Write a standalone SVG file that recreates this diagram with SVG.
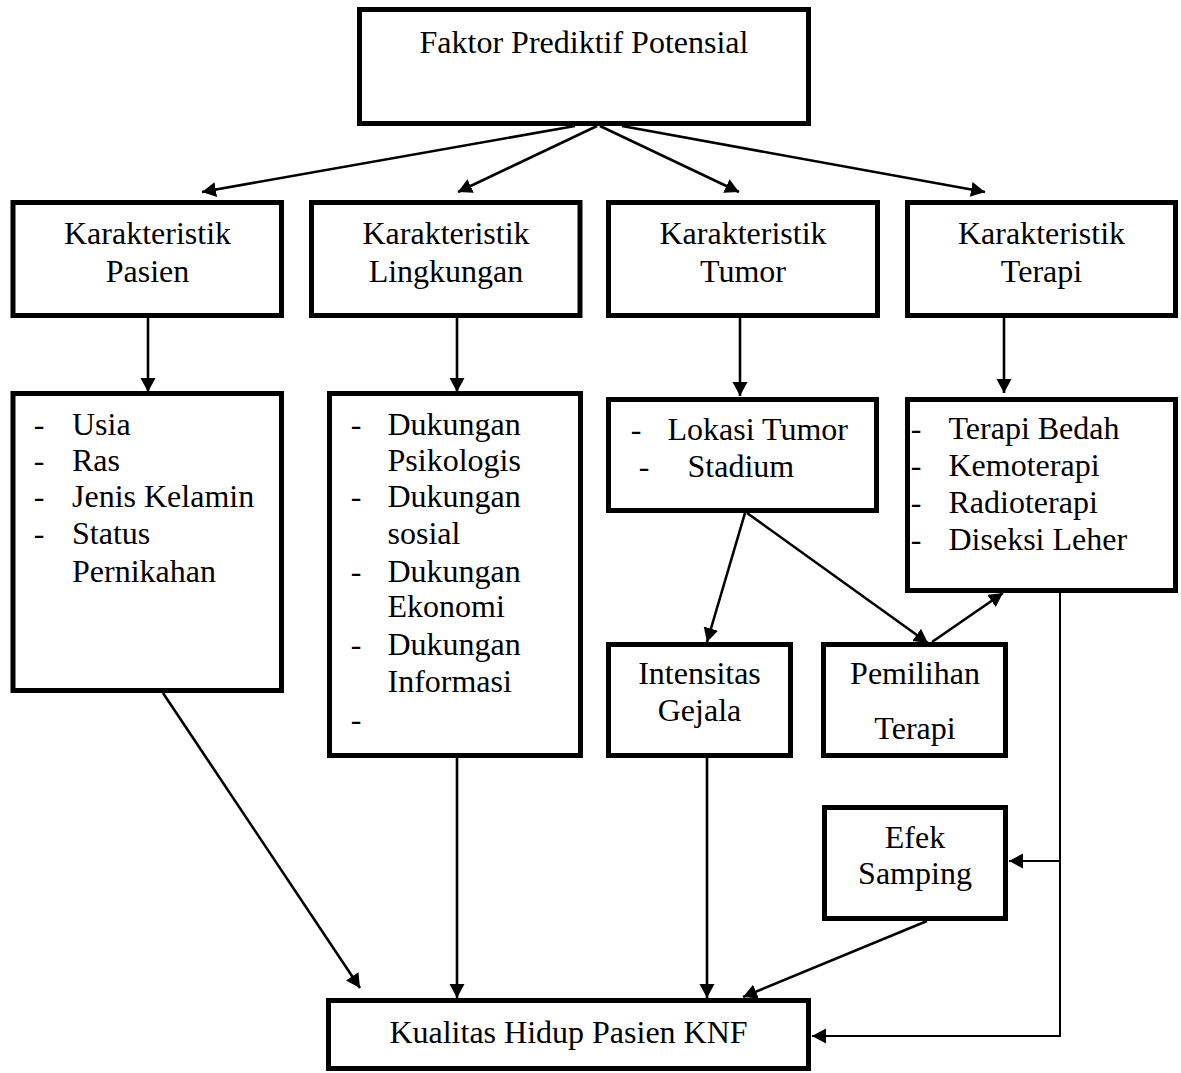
<svg xmlns="http://www.w3.org/2000/svg" width="1181" height="1073" viewBox="0 0 1181 1073">
<defs>
<style>
.box{fill:#fff;stroke:#000;stroke-width:5}
.t{font-family:"Liberation Serif","Times New Roman",serif;font-size:32px;fill:#000}
.c{text-anchor:middle}
.ln{fill:none;stroke:#000;stroke-width:2.6}
.thin{fill:none;stroke:#000;stroke-width:2}
</style>
<marker id="ah" markerUnits="userSpaceOnUse" markerWidth="16" markerHeight="16" refX="14" refY="7.5" orient="auto">
<path d="M0,0 L14,7.5 L0,15 z" fill="#000"/>
</marker>
</defs>
<rect width="1181" height="1073" fill="#fff"/>

<g id="connectors">
<line class="ln" x1="575" y1="126" x2="202" y2="192" marker-end="url(#ah)"/>
<line class="ln" x1="597" y1="126" x2="458" y2="192" marker-end="url(#ah)"/>
<line class="ln" x1="600" y1="126" x2="739" y2="192" marker-end="url(#ah)"/>
<line class="ln" x1="622" y1="126" x2="985" y2="192" marker-end="url(#ah)"/>
<line class="ln" x1="148" y1="318" x2="148" y2="392" marker-end="url(#ah)"/>
<line class="ln" x1="457" y1="318" x2="457" y2="392" marker-end="url(#ah)"/>
<line class="ln" x1="740" y1="318" x2="740" y2="396" marker-end="url(#ah)"/>
<line class="ln" x1="1004" y1="318" x2="1004" y2="393" marker-end="url(#ah)"/>
<line class="ln" x1="163" y1="693" x2="360" y2="988" marker-end="url(#ah)"/>
<line class="ln" x1="457" y1="758" x2="457" y2="998" marker-end="url(#ah)"/>
<line class="ln" x1="745" y1="513" x2="707" y2="642" marker-end="url(#ah)"/>
<line class="ln" x1="747" y1="513" x2="928" y2="643" marker-end="url(#ah)"/>
<line class="ln" x1="932" y1="642" x2="1003" y2="593" marker-end="url(#ah)"/>
<line class="ln" x1="707" y1="758" x2="707" y2="998" marker-end="url(#ah)"/>
<line class="ln" x1="927" y1="921" x2="743" y2="997" marker-end="url(#ah)"/>
<polyline class="thin" points="1060,593 1060,1036 812,1036" marker-end="url(#ah)"/>
<line class="thin" x1="1060" y1="861" x2="1009" y2="861" marker-end="url(#ah)"/>
</g>

<g id="faktor">
<rect class="box" x="359.5" y="9.5" width="449" height="114"/>
<text class="t c" x="584" y="53">Faktor Prediktif Potensial</text>
</g>

<g id="k-pasien">
<rect class="box" x="13" y="202.5" width="268.5" height="113"/>
<text class="t c" x="147.5" y="244">Karakteristik</text>
<text class="t c" x="147.5" y="282">Pasien</text>
</g>
<g id="k-lingkungan">
<rect class="box" x="311.5" y="202.5" width="268.5" height="113"/>
<text class="t c" x="446" y="244">Karakteristik</text>
<text class="t c" x="446" y="282">Lingkungan</text>
</g>
<g id="k-tumor">
<rect class="box" x="608.5" y="202.5" width="269" height="113"/>
<text class="t c" x="743" y="244">Karakteristik</text>
<text class="t c" x="743" y="282">Tumor</text>
</g>
<g id="k-terapi">
<rect class="box" x="907.5" y="202.5" width="268" height="113"/>
<text class="t c" x="1041.5" y="244">Karakteristik</text>
<text class="t c" x="1041.5" y="282">Terapi</text>
</g>

<g id="list-pasien">
<rect class="box" x="13" y="393.5" width="268.5" height="297"/>
<text class="t" x="33.7" y="435">-</text><text class="t" x="72" y="435">Usia</text>
<text class="t" x="33.7" y="471">-</text><text class="t" x="72" y="471">Ras</text>
<text class="t" x="33.7" y="507">-</text><text class="t" x="72" y="507">Jenis Kelamin</text>
<text class="t" x="33.7" y="544">-</text><text class="t" x="72" y="544">Status</text>
<text class="t" x="72" y="582">Pernikahan</text>
</g>

<g id="list-lingkungan">
<rect class="box" x="329.5" y="393.5" width="251" height="362"/>
<text class="t" x="350.7" y="435">-</text><text class="t" x="387.5" y="435">Dukungan</text>
<text class="t" x="387.5" y="471">Psikologis</text>
<text class="t" x="350.7" y="507">-</text><text class="t" x="387.5" y="507">Dukungan</text>
<text class="t" x="387.5" y="544">sosial</text>
<text class="t" x="350.7" y="582">-</text><text class="t" x="387.5" y="582">Dukungan</text>
<text class="t" x="387.5" y="617">Ekonomi</text>
<text class="t" x="350.7" y="655">-</text><text class="t" x="387.5" y="655">Dukungan</text>
<text class="t" x="387.5" y="692">Informasi</text>
<text class="t" x="350.7" y="730">-</text>
</g>

<g id="list-tumor">
<rect class="box" x="608.5" y="399.5" width="268" height="111"/>
<text class="t" x="630.7" y="440">-</text><text class="t" x="667.5" y="440">Lokasi Tumor</text>
<text class="t" x="638.7" y="477">-</text><text class="t" x="687.5" y="477">Stadium</text>
</g>

<g id="list-terapi">
<rect class="box" x="907.5" y="399.5" width="268" height="191"/>
<text class="t" x="910.7" y="439">-</text><text class="t" x="948.5" y="439">Terapi Bedah</text>
<text class="t" x="910.7" y="476">-</text><text class="t" x="948.5" y="476">Kemoterapi</text>
<text class="t" x="910.7" y="513">-</text><text class="t" x="948.5" y="513">Radioterapi</text>
<text class="t" x="910.7" y="550">-</text><text class="t" x="948.5" y="550">Diseksi Leher</text>
</g>

<g id="intensitas">
<rect class="box" x="608.5" y="644.5" width="182" height="111"/>
<text class="t c" x="699.5" y="684">Intensitas</text>
<text class="t c" x="699.5" y="721">Gejala</text>
</g>

<g id="pemilihan">
<rect class="box" x="823.5" y="644.5" width="182" height="111"/>
<text class="t c" x="915" y="684">Pemilihan</text>
<text class="t c" x="915" y="739">Terapi</text>
</g>

<g id="efek">
<rect class="box" x="824.5" y="807.5" width="181" height="111"/>
<text class="t c" x="915" y="848">Efek</text>
<text class="t c" x="915" y="884">Samping</text>
</g>

<g id="kualitas">
<rect class="box" x="328.5" y="1000.5" width="480" height="68"/>
<text class="t c" x="568.5" y="1043">Kualitas Hidup Pasien KNF</text>
</g>
</svg>
